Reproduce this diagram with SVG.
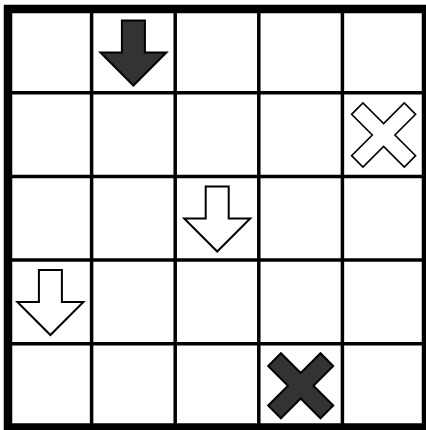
<svg xmlns="http://www.w3.org/2000/svg" width="426" height="430" viewBox="0 0 426 430">
  <style>
    .grid { stroke: #000; stroke-width: 3.5; fill: none; }
    .border { stroke: #000; stroke-width: 8.5; fill: none; }
    .dark { fill: #333333; stroke: #000; stroke-width: 2; stroke-linejoin: miter; }
    .light { fill: #ffffff; stroke: #000; stroke-width: 2; stroke-linejoin: miter; }
  </style>
  <defs>
    <path id="arrow" d="M -11.5 -32 H 11.5 V 0 H 33 L 0 33 L -33 0 H -11.5 Z"/>
    <path id="cross" d="M -8 -8 V -37.25 H 8 V -8 H 37.25 V 8 H 8 V 37.25 H -8 V 8 H -37.25 V -8 Z" transform="rotate(45)"/>
    <path id="crossDark" d="M -9 -9 V -37 H 9 V -9 H 37 V 9 H 9 V 37 H -9 V 9 H -37 V -9 Z" transform="rotate(45)"/>
  </defs>
  <rect x="0" y="0" width="426" height="430" fill="#ffffff"/>
  <g id="board">
    <g class="grid">
      <line x1="91.6" y1="9" x2="91.6" y2="430"/>
      <line x1="175.2" y1="9" x2="175.2" y2="430"/>
      <line x1="258.8" y1="9" x2="258.8" y2="430"/>
      <line x1="342.4" y1="9" x2="342.4" y2="430"/>
      <line x1="8" y1="92.7" x2="426" y2="92.7"/>
      <line x1="8" y1="176.4" x2="426" y2="176.4"/>
      <line x1="8" y1="260.1" x2="426" y2="260.1"/>
      <line x1="8" y1="343.8" x2="426" y2="343.8"/>
    </g>
    <rect class="border" x="8" y="9" width="418" height="418.5"/>
  </g>
  <g id="arrow-dark-r0c1" transform="translate(133.4 52.5)">
    <use href="#arrow" class="dark"/>
  </g>
  <g id="cross-light-r1c4" transform="translate(383.6 135)">
    <use href="#cross" class="light" style="stroke-width:1.6"/>
  </g>
  <g id="arrow-light-r2c2" transform="translate(217.2 218.5)">
    <use href="#arrow" class="light"/>
  </g>
  <g id="arrow-light-r3c0" transform="translate(50.4 302)">
    <use href="#arrow" class="light"/>
  </g>
  <g id="cross-dark-r4c3" transform="translate(300.7 385.8)">
    <use href="#crossDark" class="dark"/>
  </g>
  <g id="connectors"/>
</svg>
